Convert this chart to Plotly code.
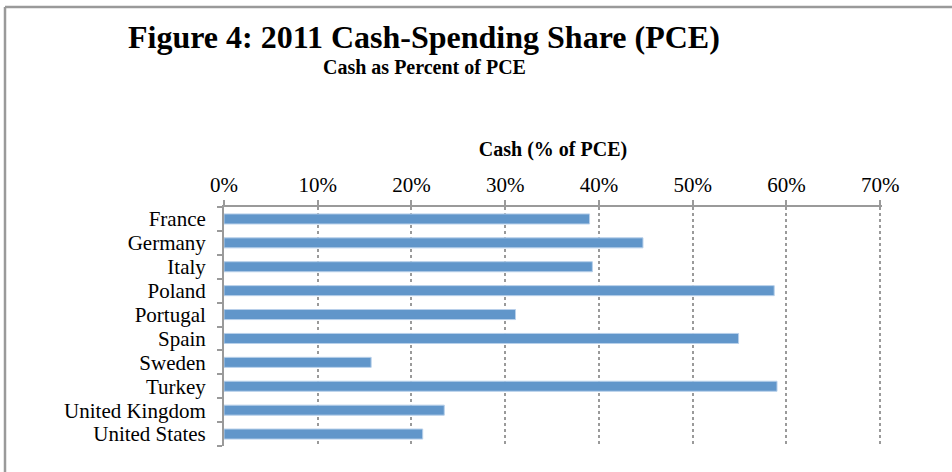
import plotly.graph_objects as go

countries = ["France", "Germany", "Italy", "Poland", "Portugal", "Spain",
             "Sweden", "Turkey", "United Kingdom", "United States"]
cash_share = [0.390, 0.447, 0.393, 0.587, 0.311, 0.549, 0.157, 0.590, 0.235, 0.212]

x_ticks = [0, 0.1, 0.2, 0.3, 0.4, 0.5, 0.6, 0.7]

FONT = "Liberation Serif, Times New Roman, serif"

fig = go.Figure(go.Bar(
    x=cash_share,
    y=countries,
    orientation="h",
    marker=dict(color="#6196CA", line=dict(color="#B8D0EA", width=1)),
    width=0.42,
    hoverinfo="x+y",
))

fig.update_layout(
    width=952, height=472,
    margin=dict(l=224, r=70, t=207, b=26),
    paper_bgcolor="white", plot_bgcolor="white",
    font=dict(family=FONT, size=21, color="black"),
    showlegend=False,
    xaxis=dict(
        side="top", range=[0, 0.702], tickvals=x_ticks, tickformat=".0%",
        showgrid=True, gridcolor="#9A9A9A", griddash="dot", gridwidth=1.5,
        zeroline=False, showline=True, linecolor="#9A9A9A", linewidth=2,
        ticks="outside", ticklen=5, tickcolor="#9A9A9A", tickwidth=2,
        tickfont=dict(size=21),
        title=dict(text="<b>Cash (% of PCE)</b>", font=dict(size=20), standoff=11),
    ),
    yaxis=dict(
        autorange="reversed", showgrid=False, zeroline=False,
        showline=True, linecolor="#9A9A9A", linewidth=2,
        tickmode="array", tickvals=countries, ticktext=countries,
        ticks="outside", tickson="boundaries", ticklen=5,
        tickcolor="#9A9A9A", tickwidth=2, tickfont=dict(size=21),
        ticklabelstandoff=12,
    ),
    annotations=[
        dict(text="<b>Figure 4: 2011 Cash-Spending Share (PCE)</b>",
             xref="paper", yref="paper", x=(424 - 224) / 658, y=1 + (207 - 37) / 239,
             xanchor="center", yanchor="middle", showarrow=False,
             font=dict(size=32, family=FONT)),
        dict(text="<b>Cash as Percent of PCE</b>",
             xref="paper", yref="paper", x=(424 - 224) / 658, y=1 + (207 - 67) / 239,
             xanchor="center", yanchor="middle", showarrow=False,
             font=dict(size=20, family=FONT)),
    ],
    shapes=[
        dict(type="line", xref="paper", yref="paper",
             x0=(5 - 224) / 658, x1=(952 - 224) / 658,
             y0=1 + (207 - 7) / 239, y1=1 + (207 - 7) / 239,
             line=dict(color="#9A9A9A", width=2.5)),
        dict(type="line", xref="paper", yref="paper",
             x0=(5 - 224) / 658, x1=(5 - 224) / 658,
             y0=1 + (207 - 7) / 239, y1=-26 / 239,
             line=dict(color="#9A9A9A", width=2.5)),
    ],
)

fig.write_html("out.html", config={"displayModeBar": False},
               post_script="document.body.style.margin='0';document.body.style.overflow='hidden';")
